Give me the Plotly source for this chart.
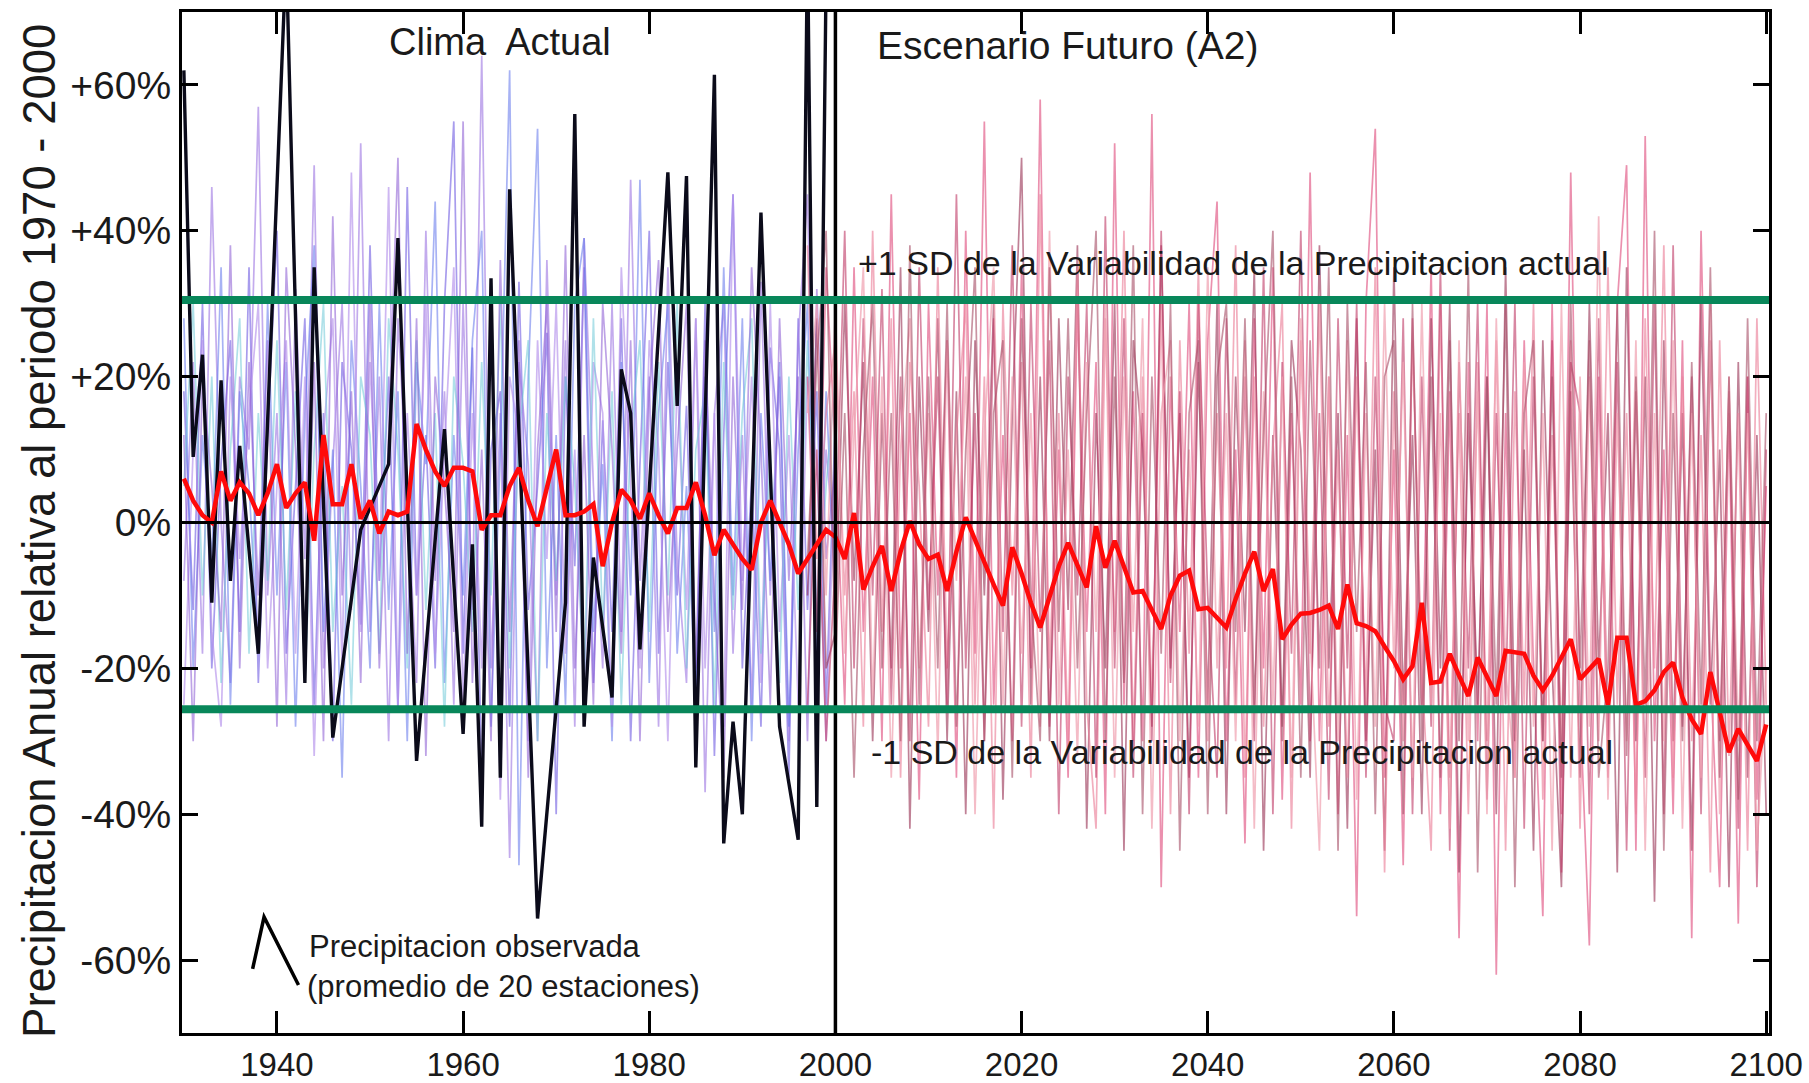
import plotly.graph_objects as go

# ---------------- data ----------------
obs_years = [1930, 1931, 1932, 1933, 1934, 1935, 1936, 1938, 1941, 1943, 1944, 1946, 1949, 1952,
             1953, 1955, 1958, 1960, 1961, 1962, 1963, 1964, 1965, 1968, 1971, 1972, 1973, 1974,
             1976, 1977, 1978, 1979, 1982, 1983, 1984, 1985, 1987, 1988, 1989, 1990, 1992, 1994,
             1996, 1997, 1998, 1999]
obs_vals = [62, 9, 23, -11, 19.5, -8, 10.5, -18, 78, -22, 35, -29.5, -1, 8,
            39, -32.7, 12.8, -29, -3, -41.7, 33.5, -35, 45.7, -54.3, -11, 56, -28, -4.8,
            -24, 21, 15, -17.4, 48, 16, 47.5, -33.6, 61.4, -44, -27.3, -40, 42.5, -28,
            -43.5, 80, -39, 75]

mean_start = 1930
mean_vals = [
    6, 3, 1, 0, 7, 3, 5.5, 4, 1, 4,                               # 1930s
    8, 2, 4, 5.5, -2.5, 12, 2.5, 2.5, 8, 0.5,                     # 1940s
    3, -1.5, 1.5, 1, 1.5, 13.5, 10, 7, 5, 7.5,                    # 1950s
    7.5, 7, -1, 1, 1, 5, 7.5, 3, -0.5, 5,                         # 1960s
    10, 1, 1, 1.5, 2.5, -6, 0, 4.5, 3, 0.5,                       # 1970s
    4, 1, -1.5, 2, 2, 5.5, 1, -4.5, -1, -3,                       # 1980s
    -5, -6.5, 0, 3, 0, -3, -7, -5, -3, -1,                        # 1990s
    -2, -5, 1.3, -9.2, -6, -3.2, -9.4, -4, 0.2, -3,               # 2000s
    -5, -4.4, -9.4, -4, 0.7, -2.5, -5.5, -8.5, -11.4, -3.4,       # 2010s
    -7, -11, -14.4, -10, -6, -2.8, -6, -8.9, -0.5, -6.2,          # 2020s
    -2.5, -6, -9.6, -9.4, -12, -14.6, -10, -7.3, -6.6, -11.9,     # 2030s
    -11.7, -13, -14.4, -10.5, -7, -4, -9.4, -6.4, -16, -14,       # 2040s
    -12.5, -12.4, -12, -11.4, -14.6, -8.5, -13.8, -14.2, -14.9, -17,   # 2050s
    -19, -21.5, -19.7, -11, -22, -21.8, -18, -21, -23.8, -18.5,   # 2060s
    -21, -23.8, -17.6, -17.8, -18, -21, -23, -21, -18.5, -16,     # 2070s
    -21.5, -20, -18.7, -25, -15.8, -15.8, -25, -24.5, -23, -20.5, # 2080s
    -19.2, -24, -27, -29, -20.5, -26, -31.5, -28.3, -30.5, -32.7, # 2090s
    -27.7]                                                        # 2100

past_start = 1930
past_members = [
    [18, -12, 30, -20, 8, 25, -15, 35, -22, 12, 40, -18, 5, 28, -25, 15, -30, 22, 10, -14,
     38, -8, 20, -26, 46, -10, 12, -20, 30, 55, -18, 24, -35, 10, 18, -28, 33, -12, 5, 26,
     -40, 20, -6, 35, -22, 14, -15, 28, -30, 8, 40, -18, 22, -10, 16, -25, 30, -32, 12, 45,
     -20, 6, -28, 24, 10, -35, 28, -12, 18, -25, 15],
    [-8, 22, -18, 46, 0, -22, 20, 10, 57, -10, 15, -25, 32, -5, 49, -20, 8, 30, -12, 52,
     -15, 20, -30, 28, 5, -22, 40, -8, 18, -25, 30, -12, 64, -20, 15, -46, 22, 8, -30, 36,
     -10, 25, -28, 39, 5, -20, 30, -15, 47, -8, 20, -28, 35, -5, -22, 28, -37, 15, 30, -18,
     12, -25, 33, -10, 20, -30, 25, 45, -15, 10, -5],
    [28, -20, 12, -5, 35, -25, 18, 5, -18, 30, -10, 22, -28, 15, 38, -15, 10, -35, 25, 5,
     -20, 30, -12, 18, -30, 22, 8, 44, -22, 12, -10, 25, 40, -28, 10, 62, -47, 20, 54, -20,
     12, -25, 30, 39, -15, 8, -30, 22, -10, 47, -22, 15, 30, -18, 5, -25, 20, -15, 35, -10,
     28, -30, 15, -8, 22, -28, 10, 30, -20, 18, -10],
    [-25, 10, 25, -15, -28, 20, -5, 15, 30, -20, 5, 25, -18, 20, -32, 12, 28, -20, 48, -15,
     22, -8, 46, -25, 15, -10, 30, -18, 10, 35, -25, 15, -20, 28, -38, 20, 12, -30, 25, -5,
     30, -18, 10, -25, 22, 15, -28, 35, 5, -20, 25, 10, -30, 20, -12, 28, -20, 15, -28, 45,
     -8, 20, -22, 30, -15, 12, -25, 20, 8, -30, 10],
    [5, 30, -10, 20, -22, 10, 28, -18, 15, -8, 25, -12, 18, -22, 10, 30, -15, 5, -25, 20,
     12, -18, 28, 10, -20, 25, -12, 15, -28, 20, 8, -15, 22, -10, 30, -20, 12, 25, -30, 15,
     -8, 20, 5, -22, 28, -15, 18, -25, 12, 25, -15, 22, -10, 30, -20, 10, 18, -25, 22, -12,
     15, 28, -18, 10, -22, 20, -12, 25, -15, 5, 20],
    [12, -30, 20, 5, -15, 38, -20, 22, -10, 25, -28, 35, 10, -20, 22, -30, 42, -10, 18, -22,
     30, -20, 12, 50, -18, 28, -32, 20, 5, -15, 55, -22, 10, -30, 36, -15, 25, -35, 10, 30,
     -15, 38, -20, 12, -25, 30, 10, -18, 25, -30, 18, 36, -15, 10, 30, -20, 25, -10, -35, 20,
     -12, 35, 10, -25, 28, -8, 20, -30, 32, -5, 8],
]
past_colors = ["rgba(110,90,225,0.6)", "rgba(155,115,225,0.6)", "rgba(95,115,235,0.55)",
               "rgba(180,145,235,0.65)", "rgba(110,200,215,0.55)", "rgba(135,85,210,0.55)"]

future_start = 1997
future_members = [
    [20, -15, 35,
     10, -25, 35, -15, 20, -30, 45, -20, 15, -38, 30, -10, 25, -35, 40, -18, 55, -25, 12, -30,
     35, -20, 58, -28, 10, -35, 30, -15, 22, -40, 52, -25, 18, -30, 56, -50, 20, -15, 30, -35,
     25, 44, -30, 10, -44, 28, -20, 35, -38, 15, -25, 48, -30, 20, -40, 12, -54, 30, 54, -35,
     10, -47, 28, -25, 35, -40, 18, -57, 22, -30, 30, -62, 15, -35, 25, -20, -54, 30, -40, 48,
     -25, -58, 20, -35, 30, 49, -45, 53, -30, 10, -40, 25, -57, 40, -20, -50, 15, -55, 20, -38,
     5],
    [-10, 28, -20,
     -15, 30, -8, 22, -30, 15, -20, 35, -42, 20, -15, 28, -30, 18, -40, 25, -10, 30, -38, 15,
     50, -25, 20, -30, 28, -12, 38, -42, 15, -20, 30, -45, 25, 10, -28, 38, -20, 15, -35, 22,
     -25, 30, -40, 20, -15, 35, -45, 12, -28, 25, 10, -35, 38, -20, 15, -42, 28, -30, 10, -45,
     35, -25, 12, -40, 28, -20, 30, -48, 15, -25, 20, -40, 35, -30, 10, -45, 25, -20, -50, 18,
     -35, 30, -20, 15, -48, 35, -30, 20, -52, 25, -30, 15, -45, 30, -25, 10, -50, 22, -35, 12,
     -40],
    [38, -5, 15,
     25, -10, 18, -28, 40, -15, 28, -35, 22, 5, -28, 35, -20, 12, 30, -25, 20, -42, 30, -10,
     22, -35, 45, -20, 15, -30, 35, -25, -42, 28, -15, 40, -30, 20, -25, 30, -40, 25, -18, 35,
     -30, 15, -20, 38, -35, 20, -28, 10, 30, -42, 25, -18, 30, -28, 10, -35, 20, -25, 35, -48,
     18, -30, 25, -20, -45, 30, -35, 15, -40, 22, -30, 25, -45, 18, -25, 30, -38, 12, -30, 25,
     -42, 20, -30, 35, -25, 15, -40, 28, -20, 38, -35, 20, -30, 12, -48, 25, -32, 15, -45, 28,
     -25],
    [-25, 10, -30,
     -5, 40, -20, 28, -10, 32, -25, 20, -30, 35, -12, 20, -25, 45, -20, 15, -30, 28, -15, 38,
     -28, 30, -15, 25, -40, 20, -10, 30, -35, 42, -20, 28, -35, 15, -30, 40, -22, 18, -40, 30,
     -10, -35, 28, -25, 20, -30, 35, -40, 22, -18, 40, -30, 15, -38, 28, -20, 30, -35, 20, -25,
     -30, 28, -40, 20, -28, 35, -45, 22, -20, 30, -38, 15, -25, 30, -42, 20, -30, 25, -48, 22,
     15, -40, 28, -30, 22, -45, 18, -35, 30, -40, 38, -28, 20, -40, 25, -30, 18, -42, 20, -50,
     10],
    [15, 30, -10,
     30, -18, 12, 35, -25, 20, -35, 10, 28, -20, 15, -32, 25, -8, 20, -40, 12, 35, -25, 20,
     -18, 15, -28, 40, -25, 10, -32, 22, -15, 30, -35, 20, -15, 28, -42, 15, 25, -30, 10, -28,
     35, -20, 15, -30, 25, -42, 18, -25, 20, -35, 28, -15, -45, 20, -30, 25, -38, 15, -28, 30,
     -20, 22, -35, 30, -25, 15, -42, 25, -30, 18, -40, 28, -20, -35, 22, -28, 15, -45, 30, -35,
     20, -28, 42, -38, 15, -30, 25, -45, 15, -30, 25, -42, 15, -35, 30, -40, 20, -30, 15, -45,
     -20],
    [-5, 22, 40,
     -20, 15, -35, 10, 30, -20, 15, -30, 38, -25, 20, -20, 30, -28, 10, 35, -30, 15, 25, -35,
     28, -10, -30, 35, -15, 28, -20, 15, 40, -30, 20, -22, 38, -40, 20, -18, 30, -45, 15, 25,
     -40, 20, 30, -15, 28, -25, 12, 40, -30, 20, -35, 25, -20, 35, -45, 30, -15, 22, -40, 20,
     25, -40, 30, -30, 20, -35, 25, -30, 35, -48, 20, -25, 30, -50, 15, 25, -30, 20, -35, 30,
     -20, 25, -35, -20, 30, -32, 20, -25, 40, -45, 15, -30, 22, -25, 35, -35, 20, -38, 28, -30,
     15],
]
future_colors = ["rgba(225,85,130,0.65)", "rgba(150,45,80,0.6)", "rgba(235,130,155,0.65)",
                 "rgba(190,55,100,0.6)", "rgba(240,160,175,0.7)", "rgba(165,75,100,0.6)"]

sd_plus = 30.5
sd_minus = -25.6
divider_year = 2000

x_tick_vals = [1940, 1960, 1980, 2000, 2020, 2040, 2060, 2080, 2100]
y_tick_vals = [-60, -40, -20, 0, 20, 40, 60]
y_tick_text = ["-60%", "-40%", "-20%", "0%", "+20%", "+40%", "+60%"]

# ---------------- figure ----------------
FONT = "Liberation Sans, Arial, Helvetica, sans-serif"
TXT = "#1a1a1a"
fig = go.Figure()

for vals, col in zip(past_members, past_colors):
    fig.add_trace(go.Scatter(x=list(range(past_start, past_start + len(vals))), y=vals,
                             mode="lines", line=dict(color=col, width=1.7),
                             hoverinfo="skip", showlegend=False))
for vals, col in zip(future_members, future_colors):
    fig.add_trace(go.Scatter(x=list(range(future_start, future_start + len(vals))), y=vals,
                             mode="lines", line=dict(color=col, width=1.7),
                             hoverinfo="skip", showlegend=False))

fig.add_trace(go.Scatter(x=obs_years, y=obs_vals, mode="lines",
                         line=dict(color="#0b0b1a", width=3.4), showlegend=False))
fig.add_trace(go.Scatter(x=list(range(mean_start, mean_start + len(mean_vals))), y=mean_vals,
                         mode="lines", line=dict(color="#ff0a0a", width=4.5), showlegend=False))

shapes = [
    dict(type="line", xref="paper", x0=0, x1=1, yref="y", y0=0, y1=0,
         line=dict(color="black", width=3), layer="above"),
    dict(type="line", xref="x", x0=divider_year, x1=divider_year, yref="paper", y0=0, y1=1,
         line=dict(color="black", width=3.5), layer="above"),
    dict(type="line", xref="paper", x0=0, x1=1, yref="y", y0=sd_plus, y1=sd_plus,
         line=dict(color="#08875a", width=8), layer="above"),
    dict(type="line", xref="paper", x0=0, x1=1, yref="y", y0=sd_minus, y1=sd_minus,
         line=dict(color="#08875a", width=8), layer="above"),
    # legend glyph for observed line
    dict(type="path", xref="paper", yref="paper",
         path="M 0.0445 0.0627 L 0.0517 0.1136 L 0.0734 0.0470",
         line=dict(color="black", width=3.5), layer="above"),
]


def ann(text, x, y, size, xanchor="center", angle=0):
    return dict(text=text, xref="paper", yref="paper", x=x, y=y, xanchor=xanchor,
                yanchor="middle", textangle=angle, showarrow=False,
                font=dict(size=size, color=TXT, family=FONT))


annotations = [
    ann("Clima  Actual", 0.2004, 0.9706, 38),
    ann("Escenario Futuro (A2)", 0.5584, 0.9667, 39),
    ann("+1 SD de la Variabilidad de la Precipitacion actual", 0.6626, 0.7542, 34),
    ann("-1 SD de la Variabilidad de la Precipitacion actual", 0.6679, 0.2752, 34),
    ann("Precipitacion observada", 0.0790, 0.0852, 31, xanchor="left"),
    ann("(promedio de 20 estaciones)", 0.0778, 0.0460, 31, xanchor="left"),
    ann("Precipitacion Anual relativa al periodo 1970 - 2000", -0.0895, 0.4917, 45.5, angle=-90),
]

fig.update_layout(
    width=1809, height=1083,
    margin=dict(l=182, r=40, t=12, b=50, autoexpand=False),
    paper_bgcolor="white", plot_bgcolor="white",
    showlegend=False,
    shapes=shapes, annotations=annotations,
    font=dict(family=FONT, color=TXT),
)
fig.update_xaxes(range=[1929.8, 2100.3], tickvals=x_tick_vals, ticks="inside", ticklen=22,
                 tickwidth=2.5, tickcolor="black", showline=True, linewidth=3, linecolor="black",
                 mirror="ticks", showgrid=False, zeroline=False, ticklabelstandoff=0,
                 automargin=False, tickfont=dict(size=33, family=FONT, color=TXT))
fig.update_yaxes(range=[-70, 70], tickvals=y_tick_vals, ticktext=y_tick_text, ticks="inside",
                 ticklen=16, tickwidth=2.5, tickcolor="black", showline=True, linewidth=3,
                 linecolor="black", mirror="ticks", showgrid=False, zeroline=False,
                 automargin=False, tickfont=dict(size=39, family=FONT, color=TXT))

fig.write_html("out.html")
